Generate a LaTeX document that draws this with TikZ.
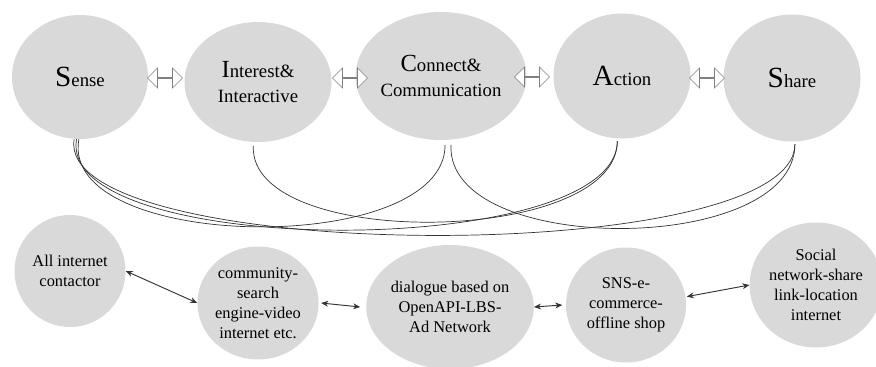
\documentclass[tikz,border=0pt]{standalone}
\usepackage{fontspec}
\setmainfont{Liberation Serif}
\usetikzlibrary{shapes.geometric,shapes.arrows,arrows.meta}

\definecolor{bubble}{RGB}{217,217,217}
\definecolor{ink}{RGB}{51,51,51}

% big first letter, then the rest of the word
\newcommand{\capword}[3]{{\fontsize{#1}{#1}\selectfont #2}#3}

\begin{document}
\begin{tikzpicture}[x=0.03cm,y=-0.03cm,
  bubble/.style={ellipse, fill=bubble, inner sep=0pt, align=center, text=black},
  toplabel/.style={font=\fontsize{16}{21}\selectfont},
  botlabel/.style={font=\fontsize{14}{17}\selectfont},
  hollow/.style={double arrow, draw=gray, fill=white, line width=0.5pt, inner sep=0pt,
    minimum width=0.6cm, minimum height=1.05cm, double arrow head extend=0.18cm},
  link/.style={draw=ink, line width=0.6pt},
  pair/.style={draw=ink, line width=0.8pt,
    {Stealth[length=6pt,width=5pt]}-{Stealth[length=6pt,width=5pt]}}]
\useasboundingbox (0,0) rectangle (876,366);
\clip (0,0) rectangle (876,366);

% top row
\node[bubble, toplabel, minimum width=4.08cm, minimum height=3.72cm] (sense) at (80,77) {\capword{25}{S}{ense}};
\node[bubble, toplabel, minimum width=4.41cm, minimum height=3.6cm] (interest) at (258,82) {\capword{21}{I}{nterest\&}\\Interactive};
\node[bubble, toplabel, minimum width=4.35cm, minimum height=3.84cm] (connect) at (441,76) {\capword{21}{C}{onnect\&}\\Communication};
\node[bubble, toplabel, minimum width=4.11cm, minimum height=3.75cm] (action) at (622,76) {\capword{25}{A}{ction}};
\node[bubble, toplabel, minimum width=4.11cm, minimum height=3.81cm] (share) at (792,78) {\capword{25}{S}{hare}};

\node[hollow] (h1) at (165,78) {};
\node[hollow] (h2) at (350,78) {};
\node[hollow] (h3) at (532,77) {};
\node[hollow] (h4) at (707,78) {};

% bottom row
\node[bubble, botlabel, minimum width=3.33cm, minimum height=3.36cm] (allnet) at (70,271) {All internet\\contactor};
\node[bubble, botlabel, minimum width=3.33cm, minimum height=3.39cm] (community) at (258,303) {community-\\search\\engine-video\\internet etc.};
\node[bubble, botlabel, minimum width=4.05cm, minimum height=3.72cm] (dialogue) at (450,307) {dialogue based on\\OpenAPI-LBS-\\Ad Network};
\node[bubble, botlabel, minimum width=3.6cm, minimum height=3.45cm] (sns) at (626,305) {SNS-e-\\commerce-\\offline shop};
\node[bubble, botlabel, minimum width=3.54cm, minimum height=3.75cm] (social) at (816,285) {Social\\network-share\\link-location\\internet};

\draw[pair] (allnet.east) -- (community.west);
\draw[pair] ([xshift=2pt]community.east) -- ([xshift=-5pt]dialogue.west);
\draw[pair] (dialogue.east) -- ([xshift=-3pt]sns.west);
\draw[pair] ([xshift=1pt]sns.8) -- (social.west);

% curves between the top bubbles
\draw[link] ([xshift=-1pt]sense.south) .. controls +(-20,113) and +(0,113) .. ([xshift=3.5pt,yshift=-4pt]connect.south);
\draw[link] ([xshift=-3pt]sense.south) .. controls +(-20,120) and +(0,120) .. ([xshift=-4pt,yshift=-2pt]action.south);
\draw[link] ([xshift=-5pt]sense.south) .. controls +(-20,125) and +(0,125) .. ([xshift=2.5pt,yshift=-2pt]share.south);
\draw[link] ([xshift=-4pt,yshift=-3pt]interest.south) .. controls +(-5,105) and +(0,105) .. ([xshift=-4pt,yshift=-2pt]action.south);
\draw[link] ([xshift=8.5pt,yshift=-4pt]connect.south) .. controls +(-5,112) and +(0,112) .. ([xshift=2.5pt,yshift=-2pt]share.south);
\end{tikzpicture}
\end{document}
